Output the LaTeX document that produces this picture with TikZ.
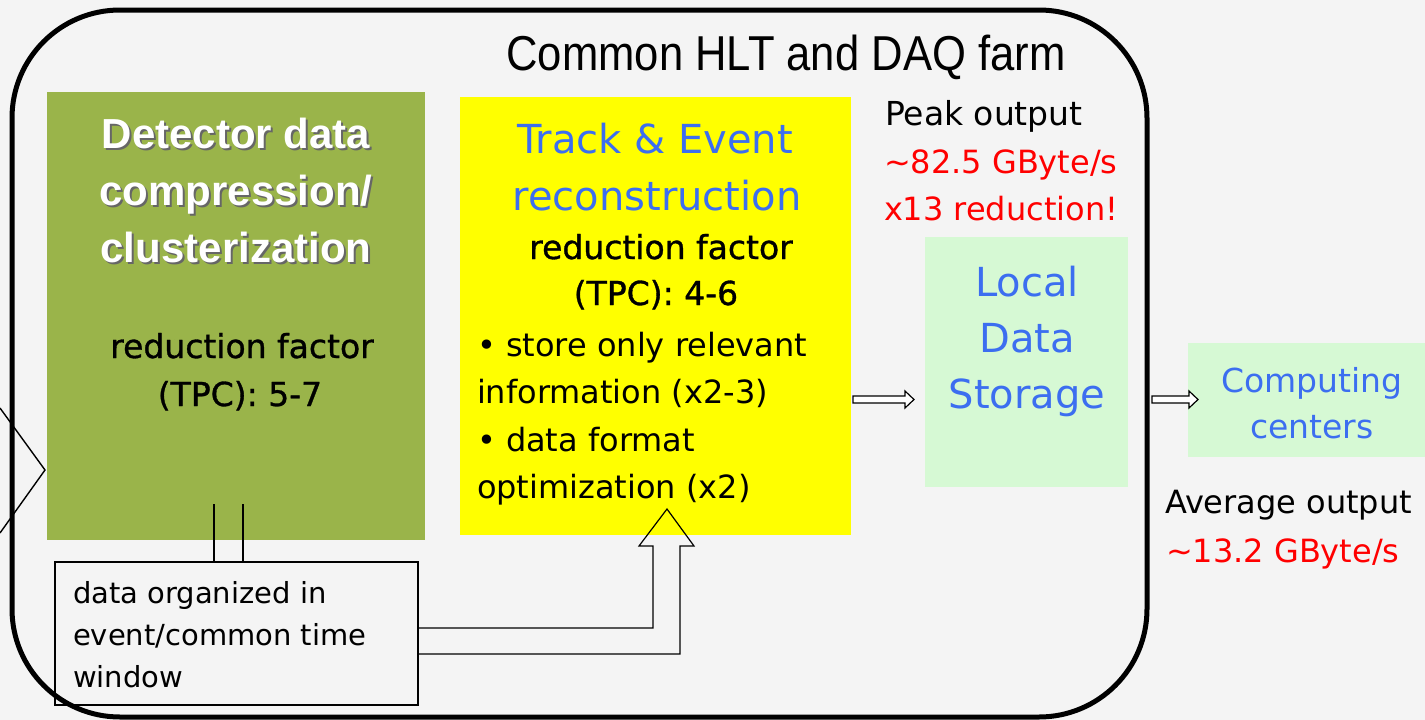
\documentclass[tikz,border=0pt]{standalone}
\usepackage{fontspec}
\setmainfont{DejaVu Sans}
\newfontfamily\titlefont[FakeStretch=0.89]{Liberation Sans}
\newfontfamily\headfont{Liberation Sans}
\newfontfamily\medfont[FakeBold=1]{DejaVu Sans}
\usetikzlibrary{calc}
\definecolor{bg}{HTML}{F4F4F4}
\definecolor{olive}{HTML}{9AB44A}
\definecolor{yel}{HTML}{FFFF00}
\definecolor{mint}{HTML}{D6F9D4}
\definecolor{tblue}{HTML}{3C6EF0}
\definecolor{tred}{HTML}{FF0000}
\newcommand{\fs}[1]{\fontsize{#1}{#1}\selectfont}
\begin{document}
\begin{tikzpicture}[x=1pt,y=-1pt,
  every node/.style={inner sep=0pt,outer sep=0pt},
  box/.style={anchor=north west,draw=none},
  ctr/.style={anchor=base},
  lft/.style={anchor=base west},
  blockarrow/.style={draw=black,fill=white,line width=1.2pt,line join=miter},
  thin/.style={draw=black,line width=1.4pt}]
\fill[bg] (0,0) rectangle (1425,720);
\useasboundingbox (0,0) rectangle (1425,720);

% boxes
\node[box,fill=olive,minimum width=378pt,minimum height=448pt] (green) at (47,92) {};
\node[box,fill=yel,minimum width=391pt,minimum height=438pt] (yellow) at (460,97) {};
\node[box,fill=mint,minimum width=203pt,minimum height=250pt] (local) at (925,237) {};
\node[box,fill=mint,minimum width=245pt,minimum height=114pt] (comp) at (1188,343) {};
\node[box,thin,minimum width=363pt,minimum height=143pt] (data) at (55,562) {};

% outer farm frame
\draw[line width=5pt,rounded corners=108pt] (12,10) rectangle (1147,717);

% left chevron
\coordinate (chA) at (0,408);
\coordinate (chB) at (45,470);
\coordinate (chC) at (0,533);
\draw[line width=1.4pt] (chA) -- (chB) -- (chC);

% twin lines from green box to data box
\draw[thin] ($(data.north west)+(159,0)$) -- ++(0,-58);
\draw[thin] ($(data.north west)+(188,0)$) -- ++(0,-58);

% big block arrow from data box to yellow box
\draw[blockarrow,fill=none]
  ($(data.north east)+(0,66)$) -- ++(235,0) -- ++(0,-82) -- ++(-14,0)
  -- ++(28,-37) -- ++(27,37) -- ++(-14,0)
  -- ++(0,108) -- ++(-262,0);

% small block arrows
\draw[blockarrow] ($(yellow.east)+(2,80)$) -- ++(52,0) -- ++(0,-5) -- ++(9,8.5) -- ++(-9,8.5) -- ++(0,-5) -- ++(-52,0) -- cycle;
\draw[blockarrow] ($(local.east)+(24,34)$) -- ++(37,0) -- ++(0,-5) -- ++(9,8.5) -- ++(-9,8.5) -- ++(0,-5) -- ++(-37,0) -- cycle;

% title
\node[ctr,font=\titlefont\fs{49}] (title) at (786,70) {Common HLT and DAQ farm};

% green box text
\begin{scope}[font=\headfont\bfseries\fs{42}]
\node[ctr,text=black!60] (g1s) at (238,150) {Detector data};
\node[ctr,text=white] (g1) at (236,148) {Detector data};
\node[ctr,text=black!60] (g2s) at (238,207) {compression/};
\node[ctr,text=white] (g2) at (236,205) {compression/};
\node[ctr,text=black!60] (g3s) at (238,264) {clusterization};
\node[ctr,text=white] (g3) at (236,262) {clusterization};
\end{scope}
\node[ctr,font=\medfont\fs{33}] (g4) at (242,358) {reduction factor};
\node[ctr,font=\medfont\fs{33}] (g5) at (240,406) {(TPC): 5-7};

% yellow box text
\node[ctr,font=\fs{40},text=tblue] (y1) at (655,153) {Track \& Event};
\node[ctr,font=\fs{40},text=tblue] (y2) at (657,210) {reconstruction};
\node[ctr,font=\medfont\fs{33}] (y3) at (661,259) {reduction factor};
\node[ctr,font=\medfont\fs{33}] (y4) at (656,305) {(TPC): 4-6};
\node[lft,font=\fs{32}] (y5) at (477,356) {• store only relevant};
\node[lft,font=\fs{32}] (y6) at (477,403) {information (x2-3)};
\node[lft,font=\fs{32}] (y7) at (477,451) {• data format};
\node[lft,font=\fs{32}] (y8) at (477,498) {optimization (x2)};

% peak output
\node[lft,font=\fs{33}] (p1) at (885,125) {Peak output};
\node[lft,font=\fs{32},text=tred] (p2) at (884,173) {\textasciitilde 82.5 GByte/s};
\node[lft,font=\fs{32},text=tred] (p3) at (884,220) {x13 reduction!};

% local storage
\node[ctr,font=\fs{40},text=tblue] (l1) at (1027,296) {Local};
\node[ctr,font=\fs{40},text=tblue] (l2) at (1027,352) {Data};
\node[ctr,font=\fs{40},text=tblue] (l3) at (1027,408) {Storage};

% computing centers
\node[ctr,font=\fs{33},text=tblue] (c1) at (1312,392) {Computing};
\node[ctr,font=\fs{33},text=tblue] (c2) at (1312,438) {centers};

% average output
\node[lft,font=\fs{32}] (a1) at (1165,513) {Average output};
\node[lft,font=\fs{32},text=tred] (a2) at (1166,562) {\textasciitilde 13.2 GByte/s};

% data organized
\node[lft,font=\fs{29}] (d1) at (73,603) {data organized in};
\node[lft,font=\fs{29}] (d2) at (73,645) {event/common time};
\node[lft,font=\fs{29}] (d3) at (73,687) {window};
\end{tikzpicture}
\end{document}
